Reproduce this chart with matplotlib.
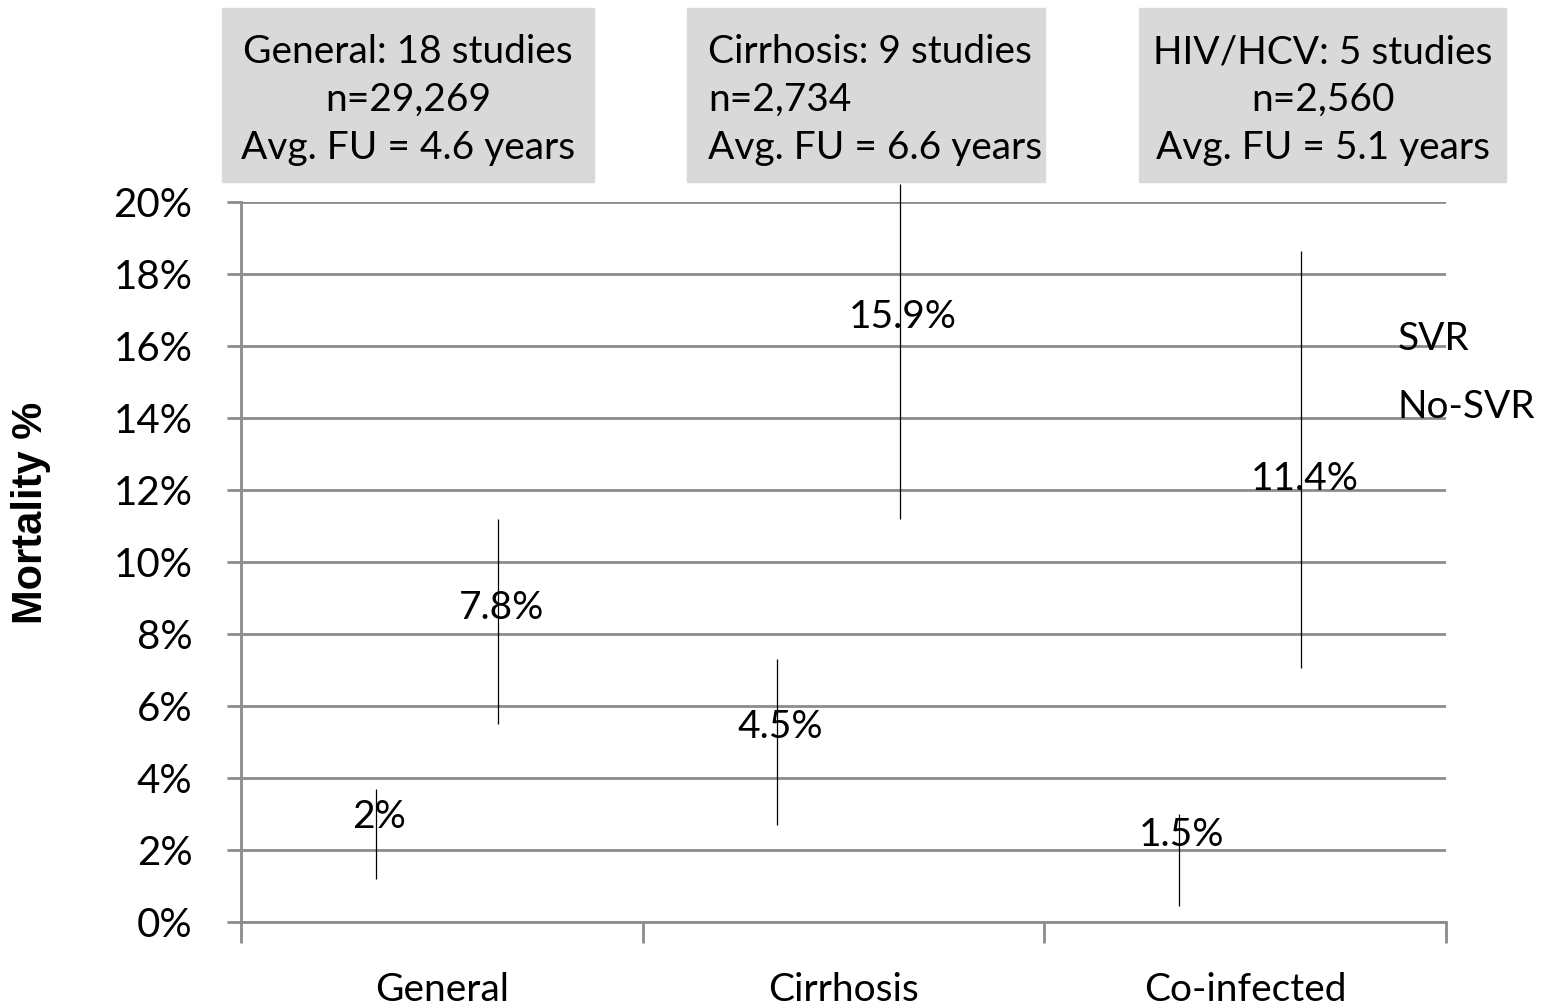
import numpy as np
import matplotlib.pyplot as plt
from matplotlib.patches import Patch

plt.rcParams['font.family'] = ['Lato', 'DejaVu Sans']

categories = ['General', 'Cirrhosis', 'Co-infected']
series = ['SVR', 'No-SVR']
svr = [2.0, 4.5, 1.5]
svr_lo = [1.2, 2.7, 0.45]
svr_hi = [3.7, 7.3, 3.0]
nosvr = [7.8, 15.9, 11.4]
nosvr_lo = [5.5, 11.2, 7.05]
nosvr_hi = [11.2, 20.5, 18.65]
labels_svr = ['2%', '4.5%', '1.5%']
labels_nosvr = ['7.8%', '15.9%', '11.4%']
boxes = ['General: 18 studies\nn=29,269\nAvg. FU = 4.6 years',
         'Cirrhosis: 9 studies\nn=2,734\nAvg. FU = 6.6 years',
         'HIV/HCV: 5 studies\nn=2,560\nAvg. FU = 5.1 years']
box_align = ['center', 'left', 'center']

fig = plt.figure(figsize=(15.46, 10.08), dpi=100)
ax = fig.add_axes([0.1559, 0.0853, 0.7794, 0.7143])

x = np.arange(len(categories))
w = 0.29
grid_c = '#8c8c8c'

def draw(xs, vals, lo, hi, labs, name):
    err = [np.array(vals) - np.array(lo), np.array(hi) - np.array(vals)]
    b = ax.bar(xs, vals, w, facecolor='none', edgecolor='none', label=name, zorder=2)
    eb = ax.errorbar(xs, vals, yerr=err, fmt='none', ecolor='black', elinewidth=0.9,
                     capsize=0, zorder=3)
    for line in eb.lines[2]:
        line.set_clip_on(False)
    for xi, v, t in zip(xs, vals, labs):
        ax.annotate(t, (xi, v), xytext=(3, 33), textcoords='offset pixels',
                    ha='center', va='center', fontsize=28, zorder=4)
    return b

draw(x - 0.165, svr, svr_lo, svr_hi, labels_svr, series[0])
draw(x + 0.14, nosvr, nosvr_lo, nosvr_hi, labels_nosvr, series[1])

ax.set_xlim(-0.5, 2.5)
ax.set_ylim(0, 20)
ax.set_yticks(np.arange(0, 21, 2))
ax.set_yticklabels([f'{v}%' for v in range(0, 21, 2)], fontsize=29)
ax.yaxis.grid(True, color=grid_c, linewidth=2, zorder=0)
ax.set_axisbelow(True)
ax.tick_params(axis='y', length=10, width=2, color=grid_c, pad=25)

ax.set_xticks(x)
ax.set_xticklabels(categories, fontsize=28)
ax.set_xticks([-0.5, 0.5, 1.5, 2.5], minor=True)
ax.tick_params(axis='x', which='major', length=0, pad=36)
ax.tick_params(axis='x', which='minor', length=15, width=2, color=grid_c)

for s in ['top', 'right']:
    ax.spines[s].set_visible(False)
ax.spines['left'].set_color(grid_c)
ax.spines['left'].set_linewidth(2)
ax.spines['bottom'].set_color(grid_c)
ax.spines['bottom'].set_linewidth(2)

ax.set_ylabel('Mortality %', fontsize=30, fontweight='bold',
              family=['Liberation Sans', 'DejaVu Sans'])
ax.yaxis.set_label_coords(-0.158, 0.568)

handles = [Patch(facecolor='none', edgecolor='none') for _ in series]
ax.legend(handles, series, loc='upper left', bbox_to_anchor=(0.96, 0.835),
          frameon=False, fontsize=28, handlelength=0, handletextpad=0,
          borderpad=0, borderaxespad=0, labelspacing=0.83)

# summary boxes above the plot
box_pos = [(222, 594), (687, 1045), (1139, 1506)]
W, H = 1546, 1008
for (x0, x1), txt, al in zip(box_pos, boxes, box_align):
    fig.patches.append(plt.Rectangle((x0 / W, 1 - 182 / H), (x1 - x0) / W, 174 / H,
                                     transform=fig.transFigure, color='#d9d9d9', zorder=0))
    tx = (x0 + x1) / 2 / W if al == 'center' else (x0 + 21) / W
    fig.text(tx, 1 - 100 / H, txt, ha=al, va='center', multialignment=al,
             fontsize=28, linespacing=1.4)

fig.savefig('out.png', dpi=100)
